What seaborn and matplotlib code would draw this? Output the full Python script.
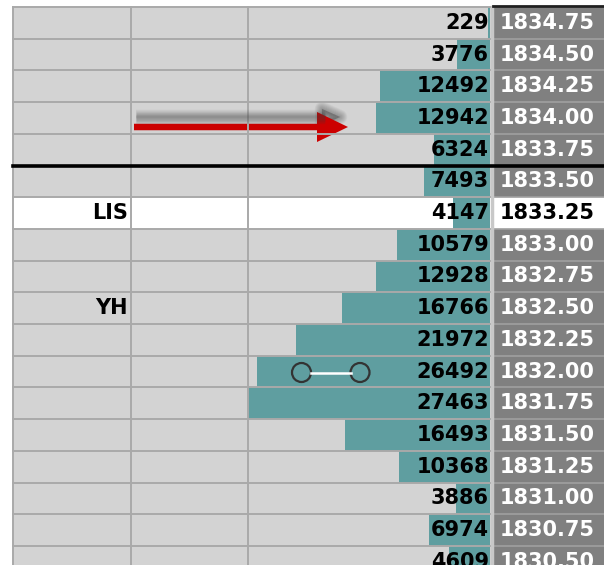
import matplotlib
matplotlib.use("Agg")
import matplotlib.pyplot as plt
import matplotlib.patches as mpatches
import seaborn as sns

# ladder data, top to bottom
prices = ["1834.75", "1834.50", "1834.25", "1834.00", "1833.75", "1833.50",
          "1833.25", "1833.00", "1832.75", "1832.50", "1832.25", "1832.00",
          "1831.75", "1831.50", "1831.25", "1831.00", "1830.75", "1830.50"]
volumes = [229, 3776, 12492, 12942, 6324, 7493, 4147, 10579, 12928, 16766,
           21972, 26492, 27463, 16493, 10368, 3886, 6974, 4609]
notes = ["", "", "", "", "", "", "LIS", "", "", "YH", "", "", "", "", "", "", "", ""]
highlight_row = 6
split_after = 4

W, H = 604, 565
top, row_h = 7, 31.7
cols = [13, 131, 248, 490]  # column edges, last one = right edge of volume column
price_x0 = 493

cell = "#d3d3d3"
line = "#a9a9a9"
teal = "#5f9ea0"
price_bg = "#808080"

n = len(prices)
fig = plt.figure(figsize=(W / 100, H / 100), dpi=100)

# background cells, pixel coordinates
bg = fig.add_axes([0, 0, 1, 1], zorder=0)
bg.set_xlim(0, W)
bg.set_ylim(H, 0)
bg.axis("off")
for i in range(n):
    y0 = top + i * row_h
    c = "white" if i == highlight_row else cell
    bg.add_patch(mpatches.Rectangle((cols[0], y0), cols[3] - cols[0] + 3, row_h, color=c, lw=0))
    pc = "white" if i == highlight_row else price_bg
    bg.add_patch(mpatches.Rectangle((price_x0, y0), W - price_x0, row_h, color=pc, lw=0))

# volume bars, right aligned in the volume column
bar_h = n * row_h
ax = fig.add_axes([cols[2] / W, (H - top - bar_h) / H, (cols[3] - cols[2]) / W, bar_h / H], zorder=1)
sns.barplot(x=volumes, y=prices, orient="h", color=teal, saturation=1, width=1.0,
            linewidth=0, ax=ax)
ax.set_xlim(max(volumes), 0)
ax.set_ylim(n - 0.5, -0.5)
ax.patch.set_alpha(0)
ax.axis("off")

# overlay: grid, text, annotations
ov = fig.add_axes([0, 0, 1, 1], zorder=2)
ov.set_xlim(0, W)
ov.set_ylim(H, 0)
ov.axis("off")
ov.patch.set_alpha(0)

for i in range(n + 1):
    y = top + i * row_h
    ov.plot([cols[0], cols[3] + 2], [y, y], color=line, lw=1.4)
    ov.plot([price_x0, W], [y, y], color="#a0a0a0", lw=1.2)
for x in cols[:3]:
    ov.plot([x, x], [top, H], color=line, lw=1.4)
ov.plot([cols[3] + 1.5, cols[3] + 1.5], [top, H], color="#c8c8c8", lw=2.5)
ov.plot([price_x0, W], [top - 1, top - 1], color="#202020", lw=2)
ys = top + (split_after + 1) * row_h
ov.plot([cols[0], W], [ys, ys], color="black", lw=2.6)

font = dict(family="DejaVu Sans", fontweight="bold", fontsize=15)
for i in range(n):
    yc = top + (i + 0.5) * row_h
    ov.text(cols[3] - 1, yc, f"{volumes[i]}", ha="right", va="center", color="black", **font)
    pcol = "black" if i == highlight_row else "white"
    ov.text(price_x0 + 7, yc, prices[i], ha="left", va="center", color=pcol, **font)
    if notes[i]:
        ov.text(cols[1] - 3, yc, notes[i], ha="right", va="center", color="black", **font)

# red arrow with a soft shadow above it
arrow_y = 127
sy = arrow_y - 10
for k in range(1, 9):
    ov.plot([136, 325], [sy, sy], color="#404040", lw=k * 1.3, alpha=0.07,
            solid_capstyle="butt")
    ov.add_patch(mpatches.Polygon([[322, sy - 8], [322, sy + 8], [340, sy]],
                                  closed=True, facecolor="#404040", edgecolor="#404040",
                                  alpha=0.06, lw=k * 1.3, joinstyle="round"))
ov.add_patch(mpatches.FancyArrow(134, arrow_y, 214, 0, width=6.5, head_width=30, head_length=31,
                                 length_includes_head=True, color="#cc0000", lw=0))

# dumbbell marker
cy = 372.5
cxs = [301.5, 360]
ov.plot([cxs[0] + 9.5, cxs[1] - 9.5], [cy, cy], color="white", lw=1.8)
for cx in cxs:
    ov.add_patch(mpatches.Circle((cx, cy), 9.5, facecolor="none", edgecolor="#333333", lw=1.6))

fig.savefig("out.png", dpi=100)
